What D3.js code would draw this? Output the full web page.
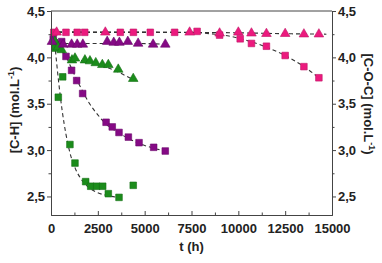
<!DOCTYPE html>
<html>
<head>
<meta charset="utf-8">
<script src="https://cdn.jsdelivr.net/npm/d3@7"></script>
<style>
  body { margin: 0; background: #fff; }
  text { font-family: Arial, "Liberation Sans", sans-serif; font-weight: bold; fill: #222; }
</style>
</head>
<body>
<div id="chart"></div>
<script>
// measured points, t in hours
var pinkSqT = [150, 800, 1400, 1800, 3700, 4400, 5300, 6600, 7800, 9000, 10100, 10700, 11500, 12500, 13500, 14300];
var pinkSqV = [4.27, 4.27, 4.27, 4.27, 4.27, 4.27, 4.27, 4.27, 4.28, 4.24, 4.20, 4.15, 4.12, 4.02, 3.90, 3.78];
var pinkTrT = [300, 2900, 7400, 9000, 10000, 10700, 11500, 12500, 13500, 14300];
var pinkTrV = [4.27, 4.27, 4.27, 4.26, 4.27, 4.26, 4.255, 4.255, 4.25, 4.25];
var purpTrT = [50, 650, 1100, 1400, 1700, 3000, 3350, 3650, 4100, 4650, 5450, 6100];
var purpTrV = [4.17, 4.14, 4.14, 4.14, 4.14, 4.17, 4.16, 4.16, 4.17, 4.15, 4.14, 4.14];
var purpSqT = [120, 570, 800, 1100, 1370, 1690, 2940, 3270, 3630, 4130, 4700, 5480, 6100];
var purpSqV = [4.20, 4.17, 4.01, 3.86, 3.75, 3.61, 3.30, 3.25, 3.19, 3.14, 3.08, 3.03, 2.99];
var greenTrT = [210, 370, 570, 1120, 1280, 1810, 2080, 2390, 2740, 3060, 3590, 4390];
var greenTrV = [4.17, 4.11, 4.08, 3.97, 3.99, 3.97, 3.96, 3.94, 3.92, 3.92, 3.87, 3.77];
var greenSqT = [210, 390, 625, 1010, 1280, 1850, 2120, 2440, 2760, 3060, 3630, 4390];
var greenSqV = [4.10, 3.57, 3.79, 3.06, 2.86, 2.66, 2.61, 2.61, 2.61, 2.53, 2.49, 2.62];

// dashed fit curves
var pinkSqFitT = [0, 4000, 7500, 8500, 9500, 10500, 11500, 12500, 13500, 14300];
var pinkSqFitV = [4.27, 4.27, 4.268, 4.255, 4.23, 4.18, 4.11, 4.02, 3.90, 3.78];
var pinkTrFitT = [0, 7000, 10000, 12500, 14700];
var pinkTrFitV = [4.275, 4.27, 4.265, 4.255, 4.25];
var purpTrFitT = [80, 400, 800, 1500, 3000, 4500, 6200];
var purpTrFitV = [4.22, 4.17, 4.15, 4.15, 4.15, 4.15, 4.14];
var purpSqFitT = [150, 500, 800, 1100, 1400, 1700, 2000, 2500, 3000, 3500, 4000, 4500, 5000, 5500, 6100];
var purpSqFitV = [4.26, 4.13, 4.01, 3.88, 3.75, 3.63, 3.52, 3.38, 3.27, 3.20, 3.14, 3.09, 3.05, 3.02, 2.99];
var greenTrFitT = [100, 400, 700, 1000, 1500, 2000, 2500, 3000, 3500, 4000, 4400];
var greenTrFitV = [4.17, 4.10, 4.04, 4.00, 3.97, 3.95, 3.92, 3.89, 3.85, 3.80, 3.76];
var greenSqFitT = [200, 400, 600, 800, 1000, 1300, 1600, 2000, 2500, 3000, 3600];
var greenSqFitV = [4.15, 3.75, 3.42, 3.17, 2.98, 2.80, 2.69, 2.60, 2.54, 2.51, 2.49];

var xTicks = [0, 2500, 5000, 7500, 10000, 12500, 15000];
var yTicks = [2.5, 3.0, 3.5, 4.0, 4.5];

var W = 382, H = 263;
var pink = '#ec1a7e', purple = '#850a85', green = '#1b8c1b';

var svg = d3.select('#chart').append('svg')
    .attr('width', W)
    .attr('height', H);

var x = d3.scaleLinear().domain([0, 15000]).range([51, 332]);
var y = d3.scaleLinear().domain([2.3, 4.5]).range([215, 11]);

function zip(ts, vs) {
    return ts.map(function(t, i) { return {t: t, v: vs[i]}; });
}

var line = d3.line()
    .x(function(d) { return x(d.t); })
    .y(function(d) { return y(d.v); })
    .curve(d3.curveMonotoneX);

var fits = [
    [pinkTrFitT, pinkTrFitV],
    [pinkSqFitT, pinkSqFitV],
    [purpTrFitT, purpTrFitV],
    [purpSqFitT, purpSqFitV],
    [greenTrFitT, greenTrFitV],
    [greenSqFitT, greenSqFitV]
];
fits.forEach(function(f) {
    svg.append('path')
        .attr('d', line(zip(f[0], f[1])))
        .style('fill', 'none')
        .style('stroke', '#333')
        .style('stroke-width', 1.1)
        .style('stroke-dasharray', '4,3');
});

var sq = d3.symbol().type(d3.symbolSquare).size(44);
var tri = d3.symbol().type(d3.symbolTriangle).size(40);

var series = [
    [purpSqT, purpSqV, purple, sq],
    [greenSqT, greenSqV, green, sq],
    [greenTrT, greenTrV, green, tri],
    [purpTrT, purpTrV, purple, tri],
    [pinkSqT, pinkSqV, pink, sq],
    [pinkTrT, pinkTrV, pink, tri]
];
series.forEach(function(s) {
    svg.append('g').selectAll('path')
        .data(zip(s[0], s[1]))
        .enter()
        .append('path')
        .attr('d', s[3])
        .attr('transform', function(d) { return 'translate(' + x(d.t) + ',' + y(d.v) + ')'; })
        .style('fill', s[2])
        .style('stroke', d3.color(s[2]).darker(0.6))
        .style('stroke-width', 0.6);
});

// axes
var fmt = function(d) { return d3.format('.1f')(d).replace('.', ','); };
var yMinor = [2.75, 3.25, 3.75, 4.25];
var xMinor = [1250, 3750, 6250, 8750, 11250, 13750];

var bottom = svg.append('g').attr('transform', 'translate(0,215)')
    .call(d3.axisBottom(x).tickValues(xTicks).tickSizeInner(-4).tickSizeOuter(0).tickPadding(9).tickFormat(d3.format('d')));
var bottomMinor = svg.append('g').attr('transform', 'translate(0,215)')
    .call(d3.axisBottom(x).tickValues(xMinor).tickSizeInner(-2.5).tickSizeOuter(0).tickFormat(''));
var left = svg.append('g').attr('transform', 'translate(51,0)')
    .call(d3.axisLeft(y).tickValues(yTicks).tickSizeInner(4).tickSizeOuter(0).tickPadding(2).tickFormat(fmt));
var leftMinor = svg.append('g').attr('transform', 'translate(51,0)')
    .call(d3.axisLeft(y).tickValues(yMinor).tickSizeInner(2.5).tickSizeOuter(0).tickFormat(''));
var right = svg.append('g').attr('transform', 'translate(332,0)')
    .call(d3.axisRight(y).tickValues(yTicks).tickSizeInner(4).tickSizeOuter(0).tickPadding(2).tickFormat(fmt));
var rightMinor = svg.append('g').attr('transform', 'translate(332,0)')
    .call(d3.axisRight(y).tickValues(yMinor).tickSizeInner(2.5).tickSizeOuter(0).tickFormat(''));

[bottom, bottomMinor, left, leftMinor, right, rightMinor].forEach(function(g) {
    g.selectAll('.domain').style('stroke', '#444').style('stroke-width', 1);
    g.selectAll('line').style('stroke', '#444').style('stroke-width', 1);
    g.selectAll('text')
        .style('font-size', '13px')
        .style('font-weight', 'bold')
        .style('font-family', 'Arial, "Liberation Sans", sans-serif')
        .style('fill', '#222');
});

svg.append('line')
    .attr('x1', 51).attr('x2', 332).attr('y1', 11).attr('y2', 11)
    .style('stroke', '#444').style('stroke-width', 1);

// titles
svg.append('text')
    .attr('x', (51 + 332) / 2)
    .attr('y', 251)
    .attr('text-anchor', 'middle')
    .style('font-size', '13px')
    .text('t (h)');

var lt = svg.append('text')
    .attr('transform', 'translate(19,110) rotate(-90)')
    .attr('text-anchor', 'middle')
    .style('font-size', '13px');
lt.append('tspan').text('[C-H] (mol.L');
lt.append('tspan').attr('dy', -5).style('font-size', '9px').text('-1');
lt.append('tspan').attr('dy', 5).text(')');

var rt = svg.append('text')
    .attr('transform', 'translate(364,104) rotate(90)')
    .attr('text-anchor', 'middle')
    .style('font-size', '13px');
rt.append('tspan').text('[C-O-C] (mol.L');
rt.append('tspan').attr('dy', -5).style('font-size', '9px').text('-1');
rt.append('tspan').attr('dy', 5).text(')');
</script>
</body>
</html>
